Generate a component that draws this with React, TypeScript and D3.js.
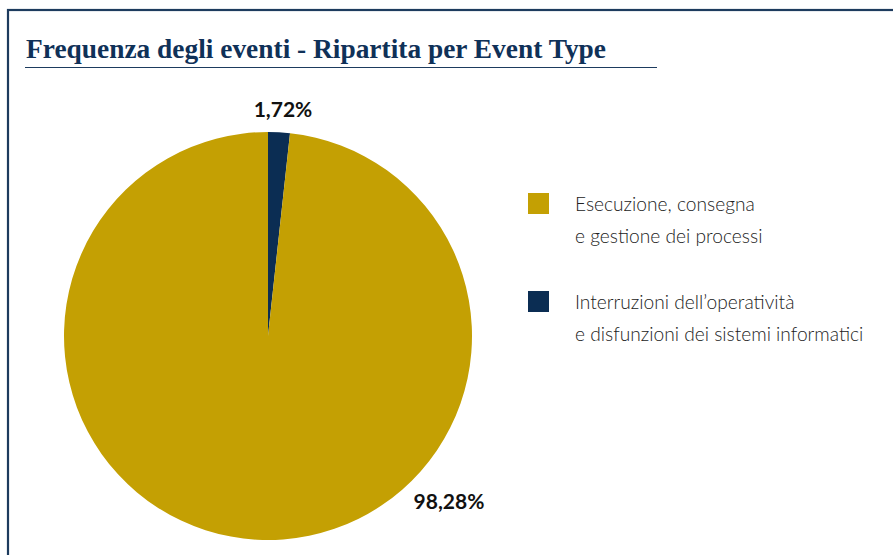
import React from "react";
import * as d3 from "d3";

const categories = [
  "Esecuzione, consegna|e gestione dei processi",
  "Interruzioni dell\u2019operatività|e disfunzioni dei sistemi informatici",
];
const values = [98.28, 1.72];
const valueLabels = ["98,28%", "1,72%"];
const colors = ["#c4a003", "#0b2d53"];

const W = 893;
const H = 555;

export default function App() {
  const cx = 268;
  const cy = 336;
  const r = 204;
  // draw the small slice first, starting at 12 o'clock clockwise
  const order = [1, 0];
  const pie = d3
    .pie<number>()
    .sort(null)
    .value((i) => values[i]);
  const arcs = pie(order);
  const arc = d3.arc<d3.PieArcDatum<number>>().innerRadius(0).outerRadius(r);

  const labelPos: Record<number, [number, number]> = {
    1: [283, 117],
    0: [449, 509],
  };

  return (
    <svg
      width={W}
      height={H}
      style={{ position: "absolute", left: 0, top: 0, background: "#fff" }}
    >
      <rect x={8} y={10} width={W + 20} height={H + 20} fill="none" stroke="#1d3b5e" strokeWidth={2.2} />
      <text
        x={26}
        y={58}
        fontFamily="'Liberation Serif', serif"
        fontWeight="bold"
        fontSize={27.4}
        fill="#0f3158"
      >
        Frequenza degli eventi - Ripartita per Event Type
      </text>
      <line x1={25} x2={657} y1={67.5} y2={67.5} stroke="#1d3b5e" strokeWidth={1.2} />
      <g transform={`translate(${cx},${cy})`}>
        {arcs.map((a) => (
          <path key={a.data} d={arc(a) || ""} fill={colors[a.data]} />
        ))}
      </g>
      {order.map((i) => (
        <text
          key={"l" + i}
          x={labelPos[i][0]}
          y={labelPos[i][1]}
          textAnchor="middle"
          fontFamily="Lato, sans-serif"
          fontWeight="bold"
          fontSize={21}
          fill="#111"
        >
          {valueLabels[i]}
        </text>
      ))}
      {categories.map((c, i) => {
        const y0 = 193 + i * 98;
        const lines = c.split("|");
        return (
          <g key={"leg" + i}>
            <rect x={528} y={y0} width={21} height={21} fill={colors[i]} />
            {lines.map((ln, j) => (
              <text
                key={j}
                transform={`translate(575,${y0 + 18 + j * 31.5}) scale(0.935,1)`}
                fontFamily="Lato, sans-serif"
                fontWeight={300}
                fontSize={20.5}
                fill="#222"
              >
                {ln}
              </text>
            ))}
          </g>
        );
      })}
    </svg>
  );
}
